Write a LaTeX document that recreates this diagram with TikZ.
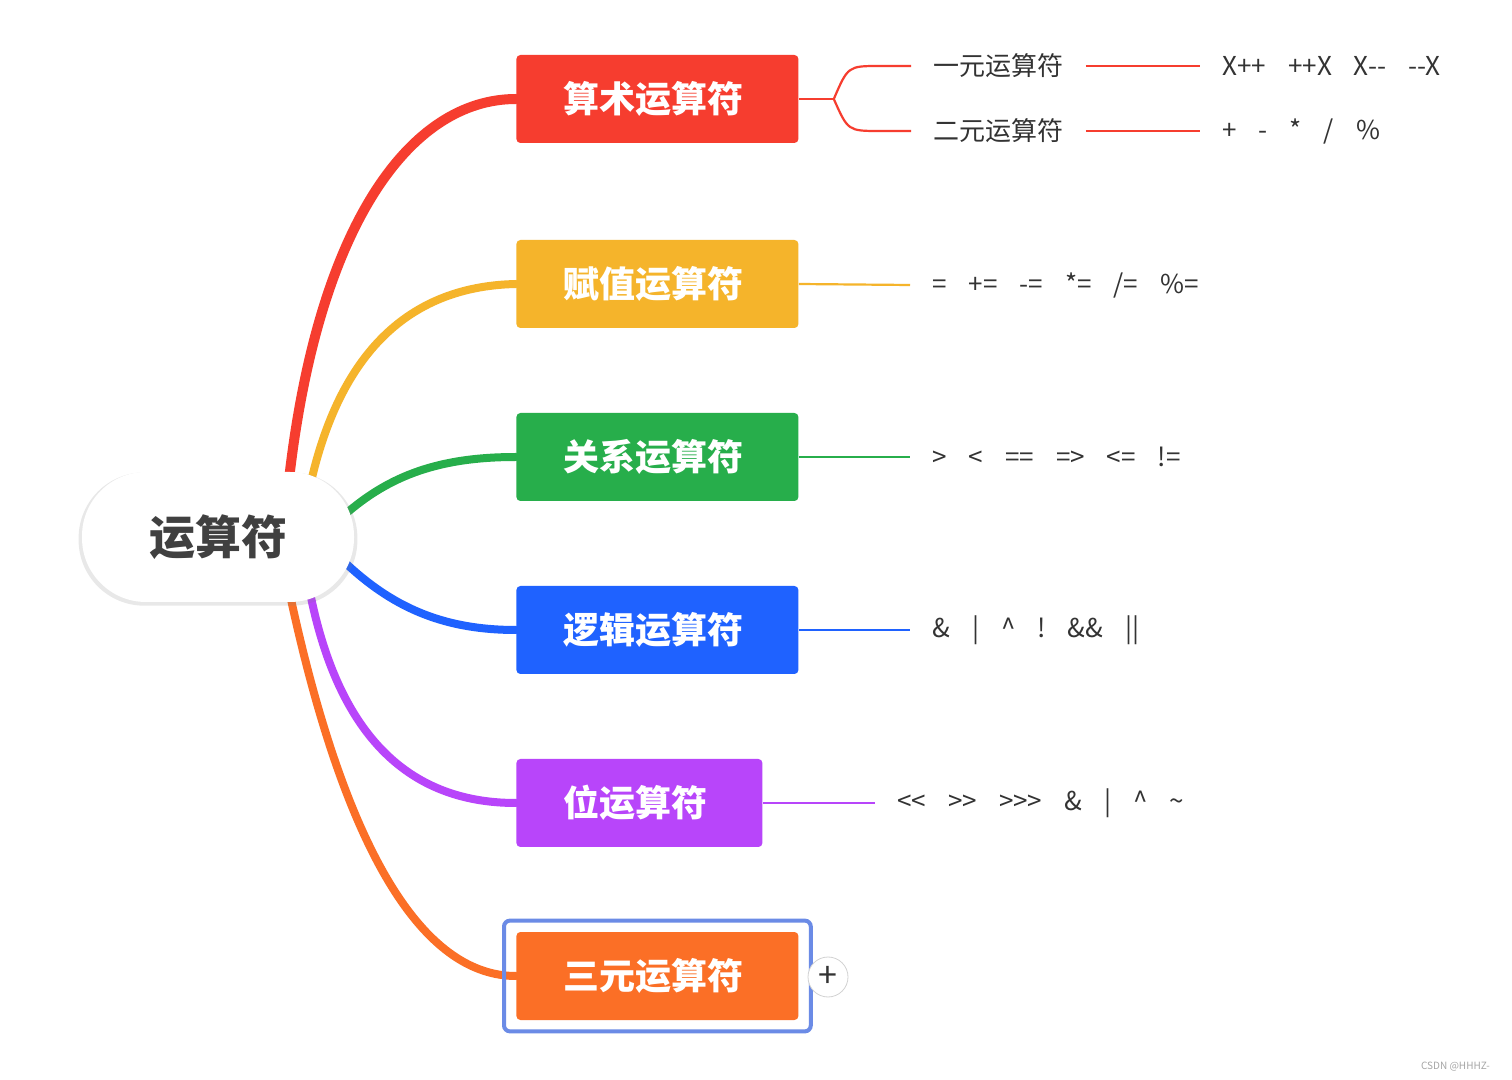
\documentclass[tikz,border=0pt]{standalone}
\usepackage{fontspec}
\newfontfamily\cjk[Ligatures=TeXOff]{Noto Sans CJK SC}
\usetikzlibrary{positioning,calc,fit,shadows,backgrounds}
\definecolor{cRed}{HTML}{F63D2F}
\definecolor{cYellow}{HTML}{F5B42B}
\definecolor{cGreen}{HTML}{27AE4B}
\definecolor{cBlue}{HTML}{1F62FF}
\definecolor{cPurple}{HTML}{B845FA}
\definecolor{cOrange}{HTML}{FB6F26}
\definecolor{cSel}{HTML}{6B8BE6}
\definecolor{rootText}{HTML}{404040}
\definecolor{leafText}{HTML}{333333}
\tikzset{
  root/.style={rounded corners=32pt, fill=white, minimum width=136pt, minimum height=65pt,
    inner sep=0pt, text=rootText, font=\cjk\bfseries\fontsize{23}{26}\selectfont,
    drop shadow={shadow xshift=0pt, shadow yshift=-1pt, shadow scale=1.025, opacity=.18}},
  topic/.style={rounded corners=2pt, minimum height=44pt, inner sep=0pt, anchor=west,
    text=white, font=\cjk\bfseries\fontsize{18}{20}\selectfont},
  leaf/.style={anchor=west, inner xsep=11pt, inner ysep=2pt, text=leafText,
    font=\cjk\fontsize{13}{15}\selectfont},
  branch/.style={line width=4pt, line cap=round},
  twig/.style={line width=1.1pt},
}
\newcommand{\opgap}{\hspace{11pt}}
\begin{document}
\begin{tikzpicture}[x=0.5pt,y=-0.5pt]
\useasboundingbox (0,0) rectangle (1512,1080);

% centre and topics
\node[root] (root) at (218,537) {运算符};
\node[topic, fill=cRed, minimum width=141pt] (arith) at (516,99) {\hspace{-4pt}算术运算符};
\node[topic, fill=cYellow, minimum width=141pt] (assign) at (516,284) {\hspace{-4pt}赋值运算符};
\node[topic, fill=cGreen, minimum width=141pt] (relat) at (516,457) {\hspace{-4pt}关系运算符};
\node[topic, fill=cBlue, minimum width=141pt] (logic) at (516,630) {\hspace{-4pt}逻辑运算符};
\node[topic, fill=cPurple, minimum width=123pt] (bitop) at (516,803) {\hspace{-4pt}位运算符};
\node[topic, fill=cOrange, minimum width=141pt] (ternary) at (516,976) {\hspace{-4pt}三元运算符};
\node[draw=cSel, line width=2pt, rounded corners=3pt, fit=(ternary), inner xsep=6pt, inner ysep=5.5pt] (sel) {};
\node[circle, draw=gray!35, fill=white, minimum size=20pt, inner sep=0pt, text=leafText,
  font=\cjk\fontsize{17}{17}\selectfont] (plus) at (828,977) {+};

% branches from the centre
\begin{scope}[on background layer]
\fill[white] (0,0) rectangle (1512,1080);
\draw[branch, cRed, line width=5pt] ($(root.north)+(71,8)$) .. controls (318,225) and (410,99) .. (arith.west);
\draw[branch, cYellow] ($(root.north)+(94,6)$) .. controls (345,340) and (420,286) .. (assign.west);
\draw[branch, cGreen] ($(root.east)+(-10,-22)$) .. controls (390,475) and (440,457) .. (relat.west);
\draw[branch, cBlue] ($(root.east)+(-10,25)$) .. controls (390,605) and (440,630) .. (logic.west);
\draw[branch, cPurple] ($(root.south)+(93,-5)$) .. controls (345,760) and (430,803) .. (bitop.west);
\draw[branch, cOrange] ($(root.south)+(73,-3)$) .. controls (350,870) and (430,976) .. (ternary.west);
\end{scope}

% arithmetic
\node[leaf] (unary) at (911,66) {一元运算符};
\node[leaf] (binary) at (911,131) {二元运算符};
\draw[twig, cRed] (arith.east) -- ++(35,0) coordinate (fork);
\draw[twig, cRed] (fork) .. controls (848,66) .. (880,66) -- (unary.west);
\draw[twig, cRed] (fork) .. controls (848,131) .. (880,131) -- (binary.west);
\node[leaf] (unaryops) at (1200,66) {X++\opgap++X\opgap X-{}-\opgap-{}-X};
\node[leaf] (binaryops) at (1200,131) {+\opgap-\opgap*\opgap/\opgap\%};
\draw[twig, cRed] (unary.east) -- (unaryops.west);
\draw[twig, cRed] (binary.east) -- (binaryops.west);

% the other topics
\node[leaf] (assignops) at (910,285) {=\opgap+=\opgap-=\opgap*=\opgap/=\opgap\%=};
\draw[twig, cYellow] (assign.east) -- (assignops.west);
\node[leaf] (relatops) at (910,457) {>\opgap<\opgap==\opgap=>\opgap<=\opgap!=};
\draw[twig, cGreen] (relat.east) -- (relatops.west);
\node[leaf] (logicops) at (910,630) {\&\opgap|\opgap\textasciicircum\opgap!\opgap\&\&\opgap||};
\draw[twig, cBlue] (logic.east) -- (logicops.west);
\node[leaf] (bitops) at (875,803) {<<\opgap>>\opgap>>>\opgap\&\opgap|\opgap\textasciicircum\opgap\textasciitilde};
\draw[twig, cPurple] (bitop.east) -- (bitops.west);

\node[anchor=east, text=gray!70, font=\cjk\fontsize{5}{6}\selectfont] (mark) at (1497,1067) {CSDN @HHHZ-};
\end{tikzpicture}
\end{document}
